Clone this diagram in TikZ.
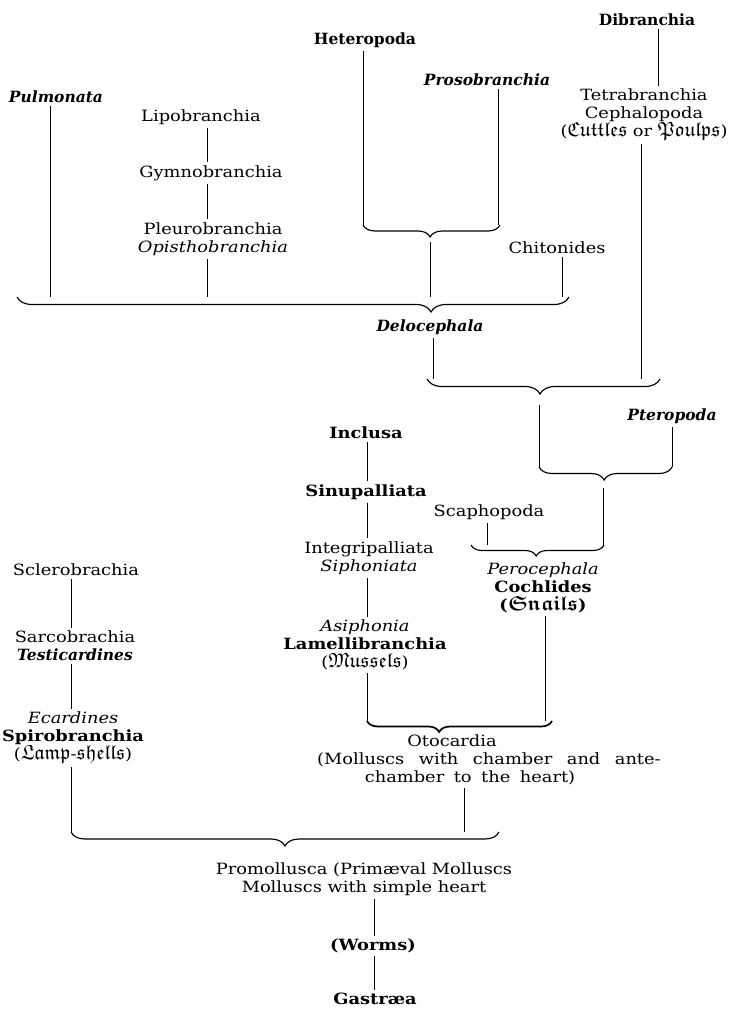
\documentclass[tikz,border=0pt]{standalone}
\usepackage{amsmath,amssymb}
\usepackage{fontspec}
\setmainfont[FakeStretch=1.15]{DejaVu Serif}
\newfontfamily\narrowfont{DejaVu Serif}
\usetikzlibrary{decorations.pathreplacing}
\DeclareMathSizes{15.5}{20.5}{15}{11}
\newcommand{\fk}[1]{$\mathfrak{#1}$}
\newcommand{\fkb}[1]{$\boldsymbol{\mathfrak{#1}}$}
\newcommand{\ws}{\hspace{14.5pt}}
\newcommand{\wt}{\hspace{9.5pt}}
\newcommand{\bi}{\narrowfont\bfseries\itshape}
\begin{document}
\begin{tikzpicture}[x=1pt,y=-1pt,
  every node/.style={font=\fontsize{15.5}{18}\selectfont, inner sep=3pt, align=center},
  conn/.style={line width=0.75pt},
  brc/.style 2 args={line width=1.15pt, decorate, decoration={brace, mirror, amplitude=#1, aspect=#2}},
]
\useasboundingbox (0,0) rectangle (730,1010);
% nodes
\node (pulm) at (56,97) {\bi Pulmonata};
\node (lipo) at (201,117) {Lipobranchia};
\node (gymno) at (211,173) {Gymnobranchia};
\node (pleuro) at (213,239) {Pleurobranchia\\{\itshape Opisthobranchia}};
\node (hetero) at (365,40) {\narrowfont\bfseries Heteropoda};
\node (proso) at (487,80) {\bi Prosobranchia};
\node (chiton) at (557,248) {Chitonides};
\node (dibr) at (647,20) {\narrowfont\bfseries Dibranchia};
\node (ceph) at (644,115) {Tetrabranchia\\Cephalopoda\\(\fk{Cuttles} or \fk{Poulps})};
\node (deloc) at (430,327) {\bi Delocephala};
\node (ptero) at (672,416) {\bi Pteropoda};
\node (inclusa) at (366,433) {\bfseries Inclusa};
\node (sinu) at (366,492) {\bfseries Sinupalliata};
\node (integ) at (369,558) {Integripalliata\\{\itshape Siphoniata}};
\node (lamelli) at (365,645) {{\itshape Asiphonia}\\{\bfseries Lamellibranchia}\\(\fk{Mussels})};
\node (scapho) at (489,512) {Scaphopoda};
\node (cochl) at (543,588) {{\itshape Perocephala}\\{\bfseries Cochlides}\\{\bfseries (\fkb{Snails})}};
\node (sclero) at (76,570) {Sclerobrachia};
\node (sarco) at (75,646) {Sarcobrachia\\{\bi Testicardines}};
\node (spiro) at (73,738) {{\itshape Ecardines}\\{\bfseries Spirobranchia}\\(\fk{Lamp}-\fk{shells})};
\node (otoc) at (489,760) {Otocardia\hspace*{74pt}\\(Molluscs\ws with\ws chamber\ws and\ws ante-\\chamber\wt to\wt the\wt heart)\hspace*{38pt}};
\node (promo) at (364,879) {Promollusca (Primæval Molluscs\\Molluscs with simple heart};
\node (worms) at (373,946) {\bfseries (Worms)};
\node (gast) at (375,999) {\bfseries Gastræa};
% brace ends
\coordinate (b0L) at (363,225); \coordinate (b0R) at (500,225); \coordinate (b0T) at (430,242);
\coordinate (b1L) at (17,297);  \coordinate (b1R) at (569,297);
\coordinate (b2L) at (427,379); \coordinate (b2R) at (660,379); \coordinate (b2T) at (539,405);
\coordinate (b3L) at (539,467); \coordinate (b3R) at (672,467); \coordinate (b3T) at (603,488);
\coordinate (b4L) at (471,545); \coordinate (b4R) at (604,545);
\coordinate (b5L) at (367,721); \coordinate (b5R) at (552,721);
\coordinate (b6L) at (71,832);  \coordinate (b6R) at (499,832);
% line x positions
\coordinate (xPul) at (50,0);  \coordinate (xOpi) at (207,0); \coordinate (xHet) at (363,0);
\coordinate (xPro) at (498,0); \coordinate (xChi) at (562,0); \coordinate (xDib) at (658,0);
\coordinate (xCep) at (641,0); \coordinate (xDel) at (433,0); \coordinate (xPte) at (672,0);
\coordinate (xSca) at (487,0); \coordinate (xCoc) at (545,0); \coordinate (xLam) at (367,0);
\coordinate (xOto) at (464,0); \coordinate (xSpi) at (71,0);  \coordinate (xPrm) at (374,0);
% braces
\draw[brc={12pt}{0.49}] (b0L) -- (b0R);
\draw[brc={15pt}{0.75}] (b1L) -- (b1R);
\draw[brc={15pt}{0.485}] (b2L) -- (b2R);
\draw[brc={13pt}{0.49}] (b3L) -- (b3R);
\draw[brc={11pt}{0.49}] (b4L) -- (b4R);
\draw[brc={11pt}{0.39}, line width=1.7pt] (b5L) -- (b5R);
\draw[brc={14pt}{0.5}] (b6L) -- (b6R);
% connectors
\draw[conn] (pulm.south -| xPul) -- (xPul |- b1L);
\draw[conn] (lipo.south -| xOpi) -- (gymno.north -| xOpi);
\draw[conn] (gymno.south -| xOpi) -- (pleuro.north -| xOpi);
\draw[conn] (pleuro.south -| xOpi) -- (xOpi |- b1L);
\draw[conn] (hetero.south -| xHet) -- (b0L);
\draw[conn] (proso.south -| xPro) -- (xPro |- b0R);
\draw[conn] (b0T) -- (b0T |- b1L);
\draw[conn] (chiton.south -| xChi) -- (xChi |- b1R);
\draw[conn] (dibr.south -| xDib) -- (ceph.north -| xDib);
\draw[conn] (ceph.south -| xCep) -- (xCep |- b2R);
\draw[conn] (deloc.south -| xDel) -- (xDel |- b2L);
\draw[conn] (b2T) -- (b3L);
\draw[conn] (ptero.south -| xPte) -- (b3R);
\draw[conn] (b3T) -- (b3T |- b4R);
\draw[conn] (scapho.south -| xSca) -- (xSca |- b4L);
\draw[conn] (inclusa.south -| xLam) -- (sinu.north -| xLam);
\draw[conn] (sinu.south -| xLam) -- (integ.north -| xLam);
\draw[conn] (integ.south -| xLam) -- (lamelli.north -| xLam);
\draw[conn] (lamelli.south -| xLam) -- (b5L);
\draw[conn] (cochl.south -| xCoc) -- (xCoc |- b5R);
\draw[conn] (otoc.south -| xOto) -- (xOto |- b6R);
\draw[conn] (sclero.south -| xSpi) -- (sarco.north -| xSpi);
\draw[conn] (sarco.south -| xSpi) -- (spiro.north -| xSpi);
\draw[conn] (spiro.south -| xSpi) -- (b6L);
\draw[conn] (promo.south -| xPrm) -- (worms.north -| xPrm);
\draw[conn] (worms.south -| xPrm) -- (gast.north -| xPrm);
\end{tikzpicture}
\end{document}
